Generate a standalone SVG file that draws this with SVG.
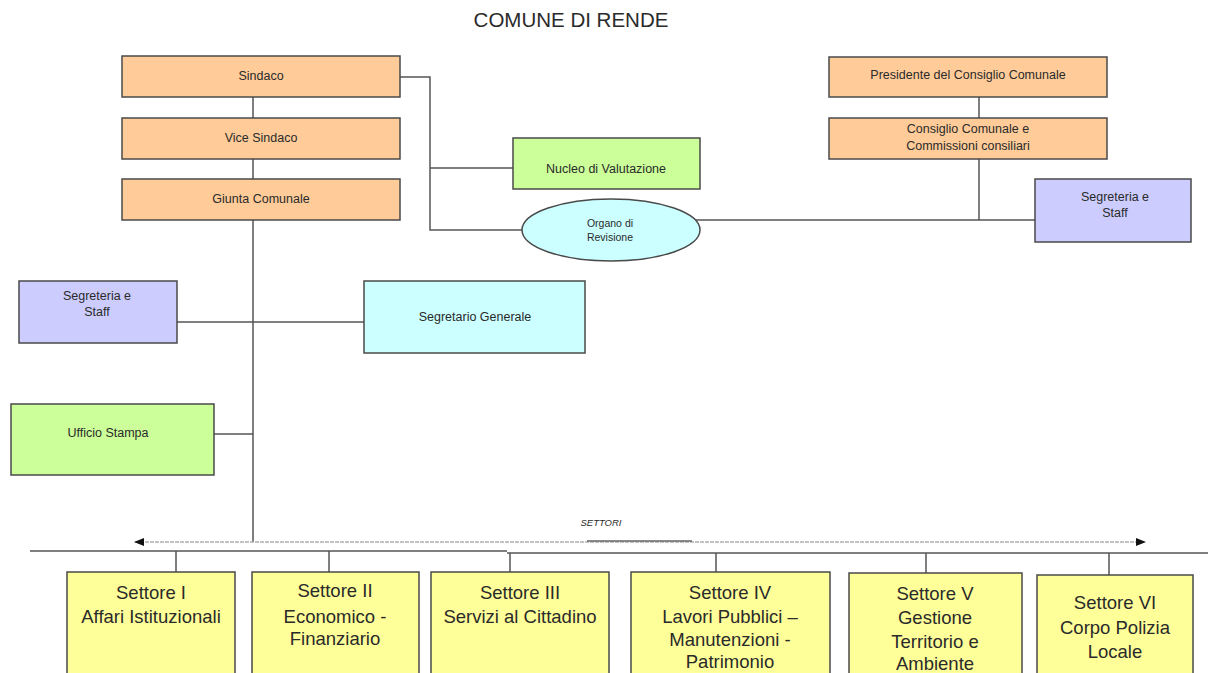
<svg xmlns="http://www.w3.org/2000/svg" width="1208" height="673" viewBox="0 0 1208 673">
<style>
.box{stroke:#4a4a4a;stroke-width:1.5}
.or{fill:#FFCC99}
.gr{fill:#CCFF99}
.pu{fill:#CCCCFF}
.cy{fill:#CCFFFF}
.ye{fill:#FFFF99}
text{font-family:"Liberation Sans",Arial,sans-serif;fill:#2a2a2a;text-anchor:middle}
.s{font-size:12.5px}
.xs{font-size:10.5px}
.big{font-size:18.5px}
.ln{stroke:#555;stroke-width:1.5;fill:none}
</style>
<defs>
<marker id="ah" markerWidth="10" markerHeight="10" refX="9" refY="5" orient="auto-start-reverse" markerUnits="userSpaceOnUse">
<path d="M0,1 L10,5 L0,9 Z" fill="#111"/>
</marker>
</defs>
<rect width="1208" height="673" fill="#fff"/>
<text x="571" y="27" style="font-size:20.5px">COMUNE DI RENDE</text>

<g id="connectors">
<path class="ln" d="M253,97 V118 M253,159 V179 M253,220 V542"/>
<path class="ln" d="M400,77 H430 V230 H522 M430,168 H513"/>
<path class="ln" d="M979,97 V118 M979,159 V220 M696,220 H1035"/>
<path class="ln" d="M177,322 H364 M214,434 H253"/>
<line x1="135" y1="542" x2="1145" y2="542" stroke="#b0b0b0" stroke-width="1.5" stroke-dasharray="4,1" marker-start="url(#ah)" marker-end="url(#ah)"/>
<path d="M587,541 H692" stroke="#666" stroke-width="1.5"/>
<path class="ln" d="M30,551 H507 M507,553 H1208"/>
<path class="ln" d="M176,551 V572 M329,551 V572 M510,553 V572 M716,553 V572 M926,553 V573 M1109,553 V575"/>
<text x="601" y="526" style="font-size:9.5px;font-style:italic">SETTORI</text>
</g>

<g id="sindaco"><rect class="box or" x="122" y="56" width="278" height="41"/><text class="s" x="261" y="80">Sindaco</text></g>
<g id="vice-sindaco"><rect class="box or" x="122" y="118" width="278" height="41"/><text class="s" x="261" y="142">Vice Sindaco</text></g>
<g id="giunta"><rect class="box or" x="122" y="179" width="278" height="41"/><text class="s" x="261" y="203">Giunta Comunale</text></g>

<g id="nucleo"><rect class="box gr" x="513" y="138" width="187" height="51"/><text class="s" x="606" y="173">Nucleo di Valutazione</text></g>
<g id="organo"><ellipse class="box cy" cx="611" cy="230" rx="89" ry="31"/><text class="xs" x="610" y="227">Organo di</text><text class="xs" x="610" y="241">Revisione</text></g>

<g id="presidente"><rect class="box or" x="829" y="57" width="278" height="40"/><text class="s" x="968" y="79">Presidente del Consiglio Comunale</text></g>
<g id="consiglio"><rect class="box or" x="829" y="118" width="278" height="41"/><text class="s" x="968" y="133">Consiglio Comunale e</text><text class="s" x="968" y="150">Commissioni consiliari</text></g>
<g id="segreteria-dx"><rect class="box pu" x="1035" y="179" width="156" height="63"/><text class="s" x="1115" y="201">Segreteria e</text><text class="s" x="1115" y="217">Staff</text></g>

<g id="segreteria-sx"><rect class="box pu" x="19" y="281" width="158" height="62"/><text class="s" x="97" y="300">Segreteria e</text><text class="s" x="97" y="316">Staff</text></g>
<g id="segretario"><rect class="box cy" x="364" y="281" width="221" height="72"/><text class="s" x="475" y="321">Segretario Generale</text></g>
<g id="ufficio-stampa"><rect class="box gr" x="11" y="404" width="203" height="71"/><text class="s" x="108" y="437">Ufficio Stampa</text></g>

<g id="settore1"><rect class="box ye" x="67" y="572" width="168" height="110"/><text class="big" x="151" y="599">Settore I</text><text class="big" x="151" y="623">Affari Istituzionali</text></g>
<g id="settore2"><rect class="box ye" x="252" y="572" width="167" height="110"/><text class="big" x="335" y="597">Settore II</text><text class="big" x="335" y="623">Economico -</text><text class="big" x="335" y="645">Finanziario</text></g>
<g id="settore3"><rect class="box ye" x="431" y="572" width="178" height="110"/><text class="big" x="520" y="599">Settore III</text><text class="big" x="520" y="623">Servizi al Cittadino</text></g>
<g id="settore4"><rect class="box ye" x="631" y="572" width="199" height="110"/><text class="big" x="730" y="599">Settore IV</text><text class="big" x="730" y="623">Lavori Pubblici –</text><text class="big" x="730" y="646">Manutenzioni -</text><text class="big" x="730" y="668">Patrimonio</text></g>
<g id="settore5"><rect class="box ye" x="849" y="573" width="173" height="110"/><text class="big" x="935" y="600">Settore V</text><text class="big" x="935" y="624">Gestione</text><text class="big" x="935" y="648">Territorio e</text><text class="big" x="935" y="670">Ambiente</text></g>
<g id="settore6"><rect class="box ye" x="1037" y="575" width="156" height="110"/><text class="big" x="1115" y="609">Settore VI</text><text class="big" x="1115" y="634">Corpo Polizia</text><text class="big" x="1115" y="658">Locale</text></g>
</svg>
